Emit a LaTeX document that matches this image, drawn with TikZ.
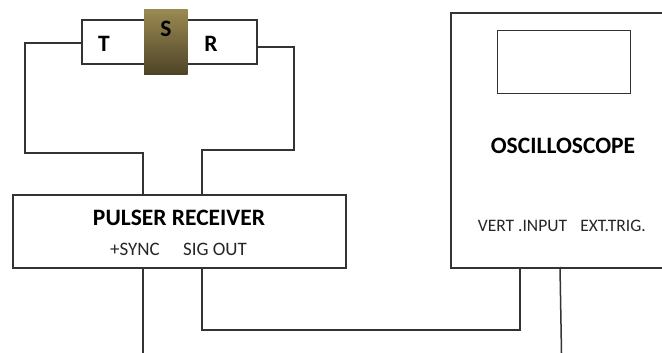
\documentclass[tikz,border=0pt]{standalone}
\usepackage{fontspec}
\setmainfont{Carlito}
\definecolor{ln}{HTML}{333333}
\definecolor{sT}{HTML}{9A8A52}
\definecolor{sB}{HTML}{4E4428}
\tikzset{
  boxnode/.style={draw=ln,line width=1.7pt,fill=white,inner sep=0pt,anchor=north west},
  wire/.style={draw=ln,line width=1.5pt,line join=miter},
  lab/.style={text=black!85,inner sep=0pt,font=\fontsize{17.5}{20}\selectfont},
  labb/.style={text=black!85,inner sep=0pt,font=\fontsize{19}{22}\selectfont},
  big/.style={text=black,inner sep=0pt,font=\fontsize{23.5}{26}\selectfont\bfseries},
}
\begin{document}
\begin{tikzpicture}[x=1pt,y=-1pt]
\useasboundingbox (0,0) rectangle (662,353);
\node[boxnode,minimum width=175pt,minimum height=44pt] (probes) at (81,19.5) {};
\node[inner sep=0pt,minimum width=43.5pt,minimum height=65pt,anchor=north west,top color=sT,bottom color=sB] (sample) at (144,9) {};
\node[boxnode,minimum width=333pt,minimum height=73pt] (pulser) at (12,194) {};
\node[boxnode,minimum width=212pt,minimum height=255pt] (scope) at (450,12) {};
\node[boxnode,line width=1.4pt,minimum width=133pt,minimum height=63pt] (screen) at (497,30) {};
\node[big] (t) at (104,43.5) {T};
\node[big] (s) at (166,29) {S};
\node[big] (r) at (211,44) {R};
\node[big] (pr) at (179,218) {PULSER RECEIVER};
\node[labb] (sync) at (135,249) {+SYNC};
\node[labb] (sig) at (215,249) {SIG OUT};
\node[big] (osc) at (563,146) {OSCILLOSCOPE};
\node[lab] (vert) at (522.5,226) {VERT .INPUT};
\node[lab] (ext) at (613,226) {EXT.TRIG.};
\coordinate (tp) at (81,43);
\coordinate (rp) at (256,47);
\coordinate (pa) at (143,194);
\coordinate (pb) at (202,194);
\coordinate (pc) at (143,267);
\coordinate (pd) at (202,267);
\coordinate (va) at (520,267);
\coordinate (ea) at (560,267);
\coordinate (fa) at (143,353);
\coordinate (fb) at (561.5,353);
\draw[wire] (tp) -- (25,43) -- (25,153) -- (143,153) -- (pa);
\draw[wire] (rp) -- (294,47) -- (294,150) -- (202,150) -- (pb);
\draw[wire] (pc) -- (fa);
\draw[wire] (pd) -- (202,330) -- (520,330) -- (va);
\draw[wire] (ea) -- (fb);
\end{tikzpicture}
\end{document}
